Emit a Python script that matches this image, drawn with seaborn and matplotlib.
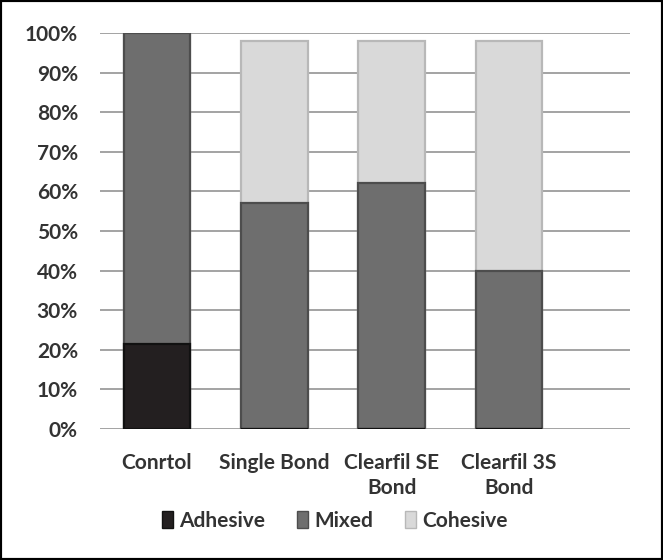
import numpy as np
import pandas as pd
import matplotlib
matplotlib.use("Agg")
import matplotlib.pyplot as plt
from matplotlib.patches import Patch, Rectangle
import seaborn as sns

# data (percent of specimens)
groups = ["Conrtol", "Single Bond", "Clearfil SE\nBond", "Clearfil 3S\nBond"]
adhesive = [21.5, 0, 0, 0]
mixed = [78.5, 57, 62, 40]
cohesive = [0, 41, 36, 58]

tick_vals = [0, 10, 20, 30, 40, 50, 60, 70, 80, 90, 100]
tick_labels = [f"{v}%" for v in tick_vals]

df = pd.DataFrame({"group": groups, "Adhesive": adhesive, "Mixed": mixed, "Cohesive": cohesive})
# cumulative tops so layers can be drawn back to front
df["top_mixed"] = df["Adhesive"] + df["Mixed"]
df["top_cohesive"] = df["top_mixed"] + df["Cohesive"]

sns.set_style("white")
plt.rcParams["font.family"] = ["Lato", "DejaVu Sans"]

fig = plt.figure(figsize=(6.63, 5.6), dpi=100)
ax = fig.add_axes([0.151, 0.234, 0.799, 0.707])

colors = {"Adhesive": "#231f20", "Mixed": "#6e6e6e", "Cohesive": "#d9d9d9"}
edges = {"Adhesive": "#111111", "Mixed": "#4d4d4d", "Cohesive": "#b8b8b8"}

layers = [("top_cohesive", "Cohesive"), ("top_mixed", "Mixed"), ("Adhesive", "Adhesive")]
for col, name in layers:
    sns.barplot(data=df, x="group", y=col, color=colors[name], width=0.57,
                edgecolor=edges[name], linewidth=1.6, saturation=1, ax=ax, zorder=3)

ax.set_ylim(0, 100)
ax.set_xlim(-0.485, 4.03)
ax.set_yticks(tick_vals)
ax.set_yticklabels(tick_labels)
ax.yaxis.grid(True, color="#a3a3a3", linewidth=1.4, zorder=0)
ax.set_axisbelow(True)
for s in ax.spines.values():
    s.set_visible(False)
ax.set_xlabel("")
ax.set_ylabel("")
ax.tick_params(axis="both", length=0, labelsize=15, colors="#333333")
ax.tick_params(axis="y", pad=16)
ax.tick_params(axis="x", pad=17)
for t in ax.get_xticklabels() + ax.get_yticklabels():
    t.set_fontweight("bold")
for t in ax.get_xticklabels():
    t.set_linespacing(1.35)

handles = [Patch(facecolor=colors[n], edgecolor=edges[n], label=n) for n in ["Adhesive", "Mixed", "Cohesive"]]
fig.legend(handles=handles, loc="center", bbox_to_anchor=(0.505, 0.07), ncol=3, frameon=False,
           handlelength=0.55, handleheight=0.85, handletextpad=0.3, columnspacing=1.5,
           prop={"size": 15, "weight": "bold"}, labelcolor="#333333")

fig.patches.append(Rectangle((0, 0), 1, 1, transform=fig.transFigure, fill=False,
                             edgecolor="black", linewidth=3))

fig.savefig("out.png", dpi=100)
